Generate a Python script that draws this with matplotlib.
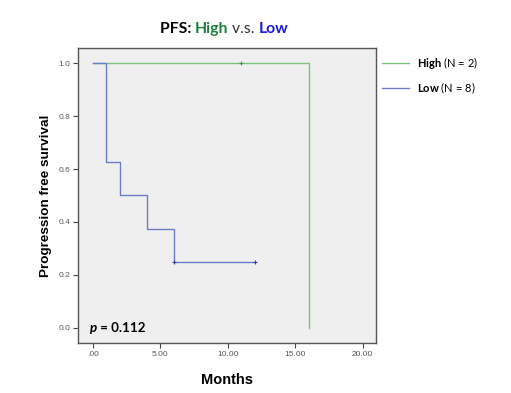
import matplotlib
matplotlib.use('Agg')
import matplotlib.pyplot as plt
from matplotlib.lines import Line2D
from matplotlib.offsetbox import TextArea, HPacker, AnchoredOffsetbox

# Kaplan-Meier step data (months, survival)
high_t = [0, 16, 16]
high_s = [1.0, 1.0, 0.0]
high_cens_t = [11]
high_cens_s = [1.0]

low_t = [0, 1, 2, 4, 6, 12]
low_s = [1.0, 0.625, 0.5, 0.375, 0.25, 0.25]
low_cens_t = [6, 12]
low_cens_s = [0.25, 0.25]

x_ticks = [0, 5, 10, 15, 20]
x_labels = ['.00', '5.00', '10.00', '15.00', '20.00']
y_ticks = [0.0, 0.2, 0.4, 0.6, 0.8, 1.0]

green_line = '#7cc47c'
blue_line = '#6c7cc8'

plt.rcParams['mathtext.fontset'] = 'custom'
plt.rcParams['mathtext.rm'] = 'Lato'
plt.rcParams['mathtext.bf'] = 'Lato:bold'

fig = plt.figure(figsize=(5.11, 3.93), dpi=100)
ax = fig.add_axes([0.1526, 0.1272, 0.5832, 0.7507])
ax.set_facecolor('#efefef')

ax.step(high_t, high_s, where='post', color=green_line, lw=1.0)
ax.step(low_t, low_s, where='post', color=blue_line, lw=1.0)
ax.plot(high_cens_t, high_cens_s, '+', color='#3c9a4c', ms=3, mew=0.8)
ax.plot(low_cens_t, low_cens_s, '+', color='#3a3f9a', ms=3, mew=0.8)

ax.set_xlim(-1.1, 21.0)
ax.set_ylim(-0.057, 1.057)
ax.set_xticks(x_ticks)
ax.set_xticklabels(x_labels)
ax.set_yticks(y_ticks)
ax.set_yticklabels(['%.1f' % v for v in y_ticks])
ax.tick_params(direction='out', length=3.5, width=0.8, color='#444444',
               labelsize=6, labelcolor='#555555', pad=2)
for lab in ax.get_xticklabels() + ax.get_yticklabels():
    lab.set_family('Liberation Sans')
for sp in ax.spines.values():
    sp.set_color('#555555')
    sp.set_linewidth(1.0)

ax.set_xlabel('Months', family='Liberation Sans', fontweight='bold',
              fontsize=10.5, labelpad=11)
ax.set_ylabel('Progression free survival', family='Liberation Sans',
              fontweight='bold', fontsize=9.7, labelpad=5)

# title with coloured pieces
parts = [('PFS: ', 'black', 'bold'), ('High', '#1f7f3f', 'bold'),
         (' v.s. ', '#333333', 'normal'), ('Low', '#1a1ae0', 'bold')]
boxes = [TextArea(t, textprops=dict(color=c, fontweight=w, family='Lato',
                                    fontsize=11.3)) for t, c, w in parts]
title_box = HPacker(children=boxes, align='baseline', pad=0, sep=0)
ab = AnchoredOffsetbox(loc='center', child=title_box, frameon=False,
                       bbox_to_anchor=(0.49, 1.065), bbox_transform=ax.transAxes,
                       pad=0, borderpad=0)
ax.add_artist(ab)

# p value
p_parts = [('p', 'italic'), (' = 0.112', 'normal')]
p_boxes = [TextArea(t, textprops=dict(color='black', fontweight='bold', style=s,
                                      family='Lato', fontsize=9.6))
           for t, s in p_parts]
p_box = HPacker(children=p_boxes, align='baseline', pad=0, sep=0)
ab2 = AnchoredOffsetbox(loc='center left', child=p_box, frameon=False,
                        bbox_to_anchor=(0.04, 0.05), bbox_transform=ax.transAxes,
                        pad=0, borderpad=0)
ax.add_artist(ab2)

handles = [Line2D([], [], color=green_line, lw=1.0),
           Line2D([], [], color=blue_line, lw=1.0)]
labels = [r'$\mathbf{High}$ (N = 2)', r'$\mathbf{Low}$ (N = 8)']
leg = ax.legend(handles, labels, loc='upper left', bbox_to_anchor=(0.985, 1.01),
                frameon=False, handlelength=2.5, handletextpad=0.7,
                labelspacing=0.85, prop={'family': 'Lato', 'size': 8})

fig.savefig('out.png', dpi=100)
